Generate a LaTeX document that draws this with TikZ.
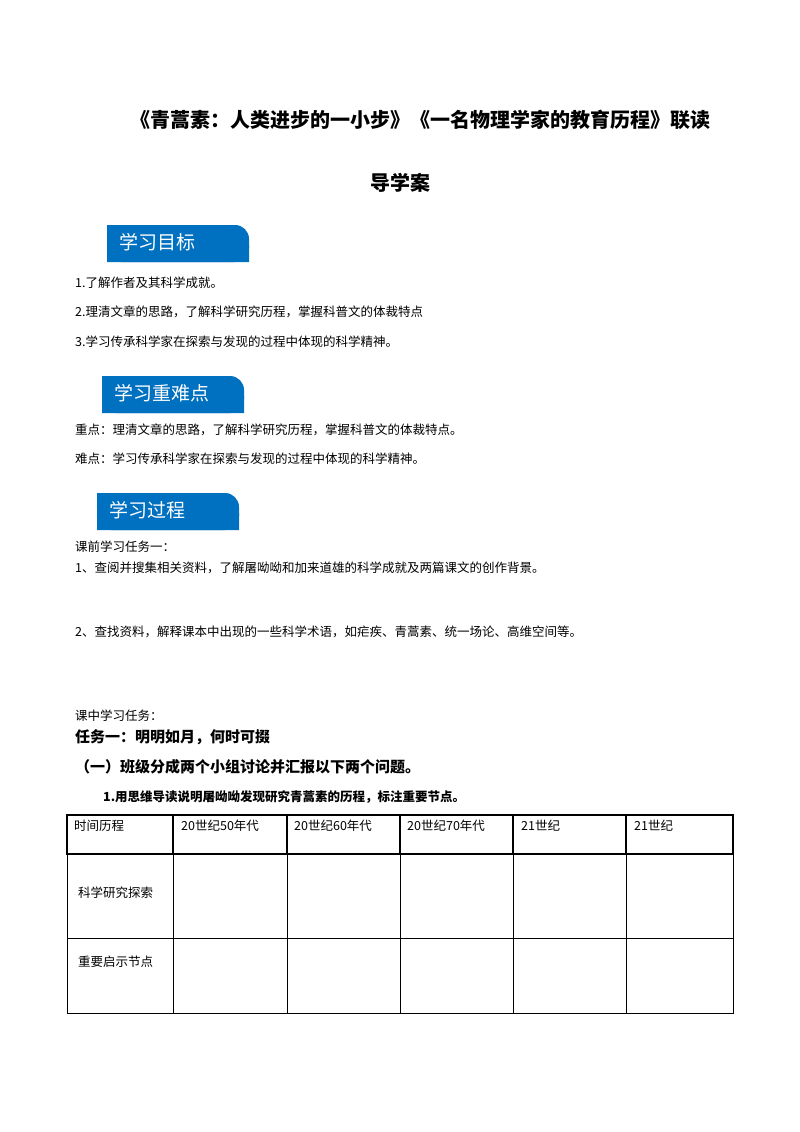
\documentclass[tikz,border=0pt]{standalone}
\usepackage{fontspec}
\setmainfont{Noto Sans CJK SC}
\newfontfamily\cjkb{Noto Sans CJK SC}[BoldFont={Noto Sans CJK SC Bold}]
\begin{document}
\begin{tikzpicture}[x=1pt,y=-1pt,
  body/.style={anchor=west,inner sep=0pt,font=\fontsize{12.5}{14}\selectfont},
  bold/.style={anchor=west,inner sep=0pt,font=\fontsize{15}{17}\selectfont\bfseries},
  banner/.style={fill=blue!60!cyan!80!black},
  btxt/.style={anchor=west,inner sep=0pt,text=white,font=\fontsize{19}{21}\selectfont},
  cell/.style={anchor=west,inner sep=0pt,font=\fontsize{12.5}{14}\selectfont}]
\definecolor{bannerblue}{RGB}{0,112,192}
\useasboundingbox (0,0) rectangle (800,1132);
\node[inner sep=0pt,font=\fontsize{20}{22}\selectfont\bfseries] (t1) at (420,120) {《青蒿素：人类进步的一小步》《一名物理学家的教育历程》联读};
\node[inner sep=0pt,font=\fontsize{20}{22}\selectfont\bfseries] (t2) at (400,183) {导学案};
% banners
\foreach \x/\y/\t/\n in {107/225/学习目标/b1,102/376/学习重难点/b2,97/493/学习过程/b3}{
  \fill[bannerblue,rounded corners=14pt] (\x,\y+37) -- (\x,\y) -- (\x+142,\y) -- (\x+142,\y+37) -- cycle;
  \fill[bannerblue] (\x,\y) rectangle (\x+60,\y+37) (\x,\y+20) rectangle (\x+142,\y+37);
  \node[btxt] (\n) at (\x+12,\y+17) {\t};
}
\node[body] (l1) at (75,283) {1.了解作者及其科学成就。};
\node[body] (l2) at (75,312) {2.理清文章的思路，了解科学研究历程，掌握科普文的体裁特点};
\node[body] (l3) at (75,342) {3.学习传承科学家在探索与发现的过程中体现的科学精神。};
\node[body] (m1) at (75,430) {重点：理清文章的思路，了解科学研究历程，掌握科普文的体裁特点。};
\node[body] (m2) at (75,459) {难点：学习传承科学家在探索与发现的过程中体现的科学精神。};
\node[body] (p1) at (75,547) {课前学习任务一：};
\node[body] (p2) at (75,568) {1、查阅并搜集相关资料，了解屠呦呦和加来道雄的科学成就及两篇课文的创作背景。};
\node[body] (p3) at (75,632) {2、查找资料，解释课本中出现的一些科学术语，如疟疾、青蒿素、统一场论、高维空间等。};
\node[body] (p4) at (75,716) {课中学习任务：};
\node[bold] (p5) at (75,737) {任务一：明明如月，何时可掇};
\node[bold] (p6) at (75,767) {（一）班级分成两个小组讨论并汇报以下两个问题。};
\node[anchor=west,inner sep=0pt,font=\fontsize{12.5}{14}\selectfont\bfseries] (p7) at (103,797) {1.用思维导读说明屠呦呦发现研究青蒿素的历程，标注重要节点。};
% table
\draw[line width=1.6pt] (67,815) rectangle (733,854);
\draw[line width=0.8pt] (67,854) rectangle (733,1013) (67,938) -- (733,938);
\foreach \x in {173,287,400,513,626}{
  \draw[line width=1.6pt] (\x,815) -- (\x,854);
  \draw[line width=0.8pt] (\x,854) -- (\x,1013);}
\node[cell] (h0) at (74,826) {时间历程};
\node[cell] (h1) at (181,826) {20世纪50年代};
\node[cell] (h2) at (294,826) {20世纪60年代};
\node[cell] (h3) at (407,826) {20世纪70年代};
\node[cell] (h4) at (521,826) {21世纪};
\node[cell] (h5) at (634,826) {21世纪};
\node[cell] (r1) at (78,893) {科学研究探索};
\node[cell] (r2) at (78,962) {重要启示节点};
\end{tikzpicture}
\end{document}
